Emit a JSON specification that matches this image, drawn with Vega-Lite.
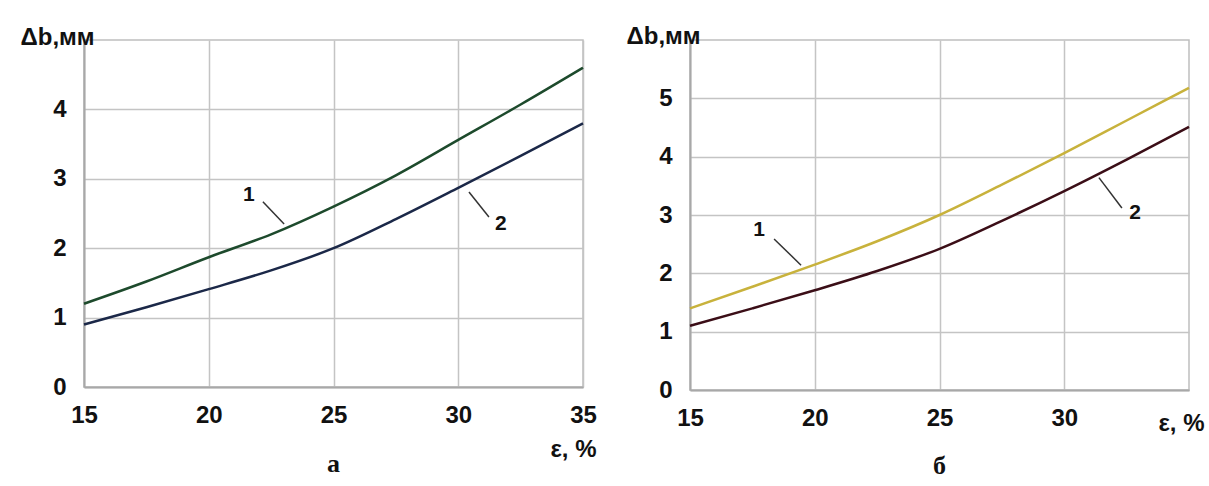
{
  "$schema": "https://vega.github.io/schema/vega-lite/v6.json",
  "padding": {"left": 19, "top": 23, "right": 0, "bottom": 0},
  "background": "white",
  "bounds": "flush",
  "spacing": 107,
  "config": {
    "view": {"stroke": "#bfbfbf", "strokeWidth": 1.5},
    "font": "Liberation Sans",
    "axis": {
      "grid": true, "gridColor": "#c4c4c4", "gridWidth": 1.5,
      "domainColor": "#a8a8a8", "domainWidth": 2,
      "ticks": false, "labelFlush": false, "format": "d",
      "labelFont": "Liberation Sans", "labelFontWeight": "bold", "labelColor": "#111111",
      "titleFont": "Liberation Sans", "titleFontWeight": "bold", "titleColor": "#111111"
    }
  },
  "datasets": {
    "curvesA": [
      {"eps": 15, "db": 1.2, "series": "a1"}, {"eps": 17.5, "db": 1.52, "series": "a1"}, {"eps": 20, "db": 1.87, "series": "a1"},
      {"eps": 22.5, "db": 2.2, "series": "a1"}, {"eps": 25, "db": 2.6, "series": "a1"}, {"eps": 27.5, "db": 3.05, "series": "a1"},
      {"eps": 30, "db": 3.56, "series": "a1"}, {"eps": 32.5, "db": 4.07, "series": "a1"}, {"eps": 35, "db": 4.6, "series": "a1"},
      {"eps": 15, "db": 0.9, "series": "a2"}, {"eps": 17.5, "db": 1.15, "series": "a2"}, {"eps": 20, "db": 1.41, "series": "a2"},
      {"eps": 22.5, "db": 1.68, "series": "a2"}, {"eps": 25, "db": 2.0, "series": "a2"}, {"eps": 27.5, "db": 2.42, "series": "a2"},
      {"eps": 30, "db": 2.87, "series": "a2"}, {"eps": 32.5, "db": 3.33, "series": "a2"}, {"eps": 35, "db": 3.8, "series": "a2"}
    ],
    "curvesB": [
      {"eps": 15, "db": 1.4, "series": "b1"}, {"eps": 17.5, "db": 1.77, "series": "b1"}, {"eps": 20, "db": 2.15, "series": "b1"},
      {"eps": 22.5, "db": 2.55, "series": "b1"}, {"eps": 25, "db": 3.0, "series": "b1"}, {"eps": 27.5, "db": 3.52, "series": "b1"},
      {"eps": 30, "db": 4.06, "series": "b1"}, {"eps": 32.5, "db": 4.62, "series": "b1"}, {"eps": 35, "db": 5.18, "series": "b1"},
      {"eps": 15, "db": 1.1, "series": "b2"}, {"eps": 17.5, "db": 1.4, "series": "b2"}, {"eps": 20, "db": 1.71, "series": "b2"},
      {"eps": 22.5, "db": 2.04, "series": "b2"}, {"eps": 25, "db": 2.42, "series": "b2"}, {"eps": 27.5, "db": 2.9, "series": "b2"},
      {"eps": 30, "db": 3.41, "series": "b2"}, {"eps": 32.5, "db": 3.95, "series": "b2"}, {"eps": 35, "db": 4.51, "series": "b2"}
    ],
    "leadersA": [
      {"x": 22.17, "y": 2.67, "x2": 23.02, "y2": 2.35},
      {"x": 31.23, "y": 2.45, "x2": 30.43, "y2": 2.81}
    ],
    "labelsA": [
      {"x": 21.61, "y": 2.76, "label": "1"},
      {"x": 31.71, "y": 2.35, "label": "2"}
    ],
    "leadersB": [
      {"x": 18.37, "y": 2.59, "x2": 19.45, "y2": 2.14},
      {"x": 32.31, "y": 3.12, "x2": 31.39, "y2": 3.64}
    ],
    "labelsB": [
      {"x": 17.77, "y": 2.74, "label": "1"},
      {"x": 32.84, "y": 3.04, "label": "2"}
    ]
  },
  "hconcat": [
    {
      "width": 499, "height": 347,
      "title": {"text": "а", "orient": "bottom", "anchor": "middle", "font": "Liberation Serif", "fontSize": 26, "fontWeight": "bold", "color": "#111111", "offset": -10},
      "layer": [
        {
          "data": {"name": "curvesA"},
          "mark": {"type": "line", "interpolate": "monotone", "strokeWidth": 2.5},
          "encoding": {
            "x": {"field": "eps", "type": "quantitative", "scale": {"domain": [15, 35], "nice": false, "zero": false},
                  "axis": {"values": [15, 20, 25, 30, 35], "labelFontSize": 24, "labelPadding": 16,
                           "title": "ε, %", "titleFontSize": 24, "titleX": 489, "titleY": 62, "titleBaseline": "middle"}},
            "y": {"field": "db", "type": "quantitative", "scale": {"domain": [0, 5], "nice": false},
                  "axis": {"values": [0, 1, 2, 3, 4], "labelFontSize": 24, "labelPadding": 18,
                           "title": "Δb,мм", "titleFontSize": 24, "titleAngle": 0, "titleAlign": "left", "titleBaseline": "middle", "titleX": -64, "titleY": -3}},
            "color": {"field": "series", "type": "nominal", "scale": {"domain": ["a1", "a2", "b1", "b2"], "range": ["#1d4a2c", "#1b2848", "#c8b23c", "#3b0e17"]}, "legend": null}
          }
        },
        {
          "data": {"name": "leadersA"},
          "mark": {"type": "rule", "color": "#333333", "strokeWidth": 1.5},
          "encoding": {
            "x": {"field": "x", "type": "quantitative"}, "y": {"field": "y", "type": "quantitative"},
            "x2": {"field": "x2"}, "y2": {"field": "y2"}
          }
        },
        {
          "data": {"name": "labelsA"},
          "mark": {"type": "text", "fontSize": 21, "fontWeight": "bold", "font": "Liberation Sans", "color": "#111111"},
          "encoding": {
            "x": {"field": "x", "type": "quantitative"}, "y": {"field": "y", "type": "quantitative"},
            "text": {"field": "label"}
          }
        }
      ]
    },
    {
      "width": 499, "height": 350,
      "title": {"text": "б", "orient": "bottom", "anchor": "middle", "font": "Liberation Serif", "fontSize": 26, "fontWeight": "bold", "color": "#111111", "offset": 18},
      "layer": [
        {
          "data": {"name": "curvesB"},
          "mark": {"type": "line", "interpolate": "monotone", "strokeWidth": 2.5},
          "encoding": {
            "x": {"field": "eps", "type": "quantitative", "scale": {"domain": [15, 35], "nice": false, "zero": false},
                  "axis": {"values": [15, 20, 25, 30], "labelFontSize": 24, "labelPadding": 16,
                           "title": "ε, %", "titleFontSize": 24, "titleX": 491, "titleY": 33, "titleBaseline": "middle"}},
            "y": {"field": "db", "type": "quantitative", "scale": {"domain": [0, 6], "nice": false},
                  "axis": {"values": [0, 1, 2, 3, 4, 5], "labelFontSize": 24, "labelPadding": 18,
                           "title": "Δb,мм", "titleFontSize": 24, "titleAngle": 0, "titleAlign": "left", "titleBaseline": "middle", "titleX": -64, "titleY": -4}},
            "color": {"field": "series", "type": "nominal", "legend": null}
          }
        },
        {
          "data": {"name": "leadersB"},
          "mark": {"type": "rule", "color": "#333333", "strokeWidth": 1.5},
          "encoding": {
            "x": {"field": "x", "type": "quantitative"}, "y": {"field": "y", "type": "quantitative"},
            "x2": {"field": "x2"}, "y2": {"field": "y2"}
          }
        },
        {
          "data": {"name": "labelsB"},
          "mark": {"type": "text", "fontSize": 21, "fontWeight": "bold", "font": "Liberation Sans", "color": "#111111"},
          "encoding": {
            "x": {"field": "x", "type": "quantitative"}, "y": {"field": "y", "type": "quantitative"},
            "text": {"field": "label"}
          }
        }
      ]
    }
  ]
}
